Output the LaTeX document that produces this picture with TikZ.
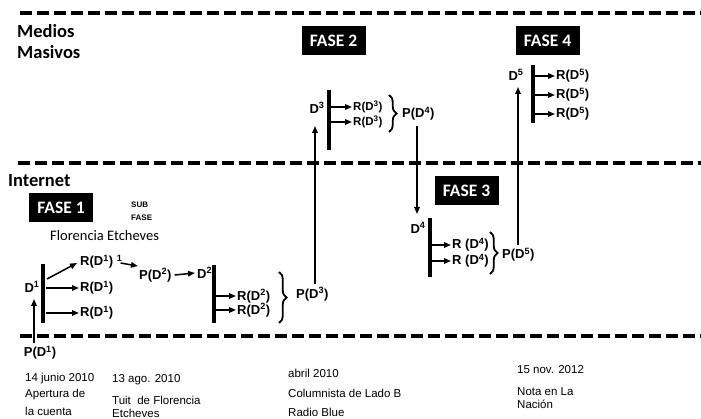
\documentclass[tikz,border=0pt]{standalone}
\usepackage{fontspec}
\setmainfont{Liberation Sans}
\newfontfamily\carl{Carlito}
\usetikzlibrary{arrows.meta,decorations.pathreplacing}
\begin{document}
\begin{tikzpicture}[x=1pt,y=-1pt,
 sep/.style={line width=4pt, dash pattern=on 12pt off 5pt},
 bar/.style={line width=3.5pt},
 arr/.style={line width=1.5pt,-{Triangle[length=7pt,width=5.5pt]}},
 lbl/.style={font=\bfseries\fontsize{13}{15}\selectfont, inner sep=0pt},
 slbl/.style={font=\bfseries\fontsize{11.5}{13}\selectfont, inner sep=0pt},
 fase/.style={fill=black,text=white,font=\carl\bfseries\fontsize{17.5}{20}\selectfont, minimum width=64pt, minimum height=29pt, inner sep=0pt},
 br/.style={decorate, decoration={brace,amplitude=7.5pt}, line width=1.8pt},
 note/.style={font=\fontsize{11.5}{14}\selectfont, inner sep=0pt, anchor=west},
 hdr/.style={font=\carl\bfseries\fontsize{18.5}{20}\selectfont, inner sep=0pt, anchor=west}]
\useasboundingbox (0,0) rectangle (701,419);
% separators
\coordinate (s1a) at (20,13); \coordinate (s1b) at (701,13);
\coordinate (s2a) at (18,163); \coordinate (s2b) at (701,163);
\coordinate (s3a) at (20,336); \coordinate (s3b) at (701,336);
\draw[sep] (s1a) -- (s1b);
\draw[sep] (s2a) -- (s2b);
\draw[sep] (s3a) -- (s3b);
% headers
\node[hdr] (medios) at (17,31) {Medios};
\node[hdr] (masivos) at (17,52) {Masivos};
\node[hdr] (internet) at (8,181) {Internet};
\node[fase] (f1) at (61,208) {FASE 1};
\node[fase] (f2) at (333.5,40.5) {FASE 2};
\node[fase] (f3) at (466.5,191) {FASE 3};
\node[fase] (f4) at (547.5,40.5) {FASE 4};
\node[font=\bfseries\fontsize{8}{9}\selectfont, inner sep=0pt, anchor=west] (sub1) at (131,205) {SUB};
\node[font=\bfseries\fontsize{8}{9}\selectfont, inner sep=0pt, anchor=west] (sub2) at (131,217.5) {FASE};
\node[font=\carl\fontsize{14.5}{17}\selectfont, inner sep=0pt, anchor=west] (flo) at (50,235.5) {Florencia Etcheves};
% phase 1
\node[lbl] (pd1) at (40,353) {P(D\textsuperscript{1})};
\node[lbl] (d1) at (32,287) {D\textsuperscript{1}};
\coordinate (a1s) at (34,343); \coordinate (a1e) at (34,299);
\draw[arr] (a1s) -- (a1e);
\coordinate (b1t) at (43,264); \coordinate (b1b) at (43,323);
\draw[bar] (b1t) -- (b1b);
\node[lbl,anchor=west] (r1a) at (80,262) {R(D\textsuperscript{1}) \textsuperscript{1}};
\node[lbl,anchor=west] (r1b) at (80,288) {R(D\textsuperscript{1})};
\node[lbl,anchor=west] (r1c) at (80,313) {R(D\textsuperscript{1})};
\coordinate (a1d) at (47,279);
\draw[arr] (a1d) -- ([xshift=-3pt,yshift=-1pt]r1a.west);
\draw[arr] ([xshift=3pt]b1t |- r1b.west) -- ([xshift=-1pt]r1b.west);
\draw[arr] ([xshift=3pt]b1t |- r1c.west) -- ([xshift=-1pt]r1c.west);
\node[lbl,anchor=west] (pd2) at (139,275) {P(D\textsuperscript{2})};
\draw[arr] ([xshift=-2pt,yshift=-1pt]r1a.east) -- ([xshift=-1pt,yshift=2pt]pd2.north west);
\node[lbl,anchor=west] (d2) at (197,273) {D\textsuperscript{2}};
\draw[arr] ([xshift=3pt]pd2.east) -- ([xshift=-2pt]d2.west);
\coordinate (b2t) at (214,265); \coordinate (b2b) at (214,323);
\draw[bar] (b2t) -- (b2b);
\node[lbl,anchor=west] (r2a) at (237,296) {R(D\textsuperscript{2})};
\node[lbl,anchor=west] (r2b) at (237,310) {R(D\textsuperscript{2})};
\draw[arr] ([xshift=2pt]b2t |- r2a.west) -- ([xshift=-1pt]r2a.west);
\draw[arr] ([xshift=2pt]b2t |- r2b.west) -- ([xshift=-1pt]r2b.west);
\coordinate (br2t) at (279,272); \coordinate (br2b) at (279,323);
\draw[br] (br2t) -- (br2b);
\node[lbl,anchor=west] (pd3) at (296,294) {P(D\textsuperscript{3})};
% phase 2
\coordinate (a3s) at (315,284); \coordinate (a3e) at (315,126);
\draw[arr] (a3s) -- (a3e);
\node[lbl] (d3) at (317,108) {D\textsuperscript{3}};
\coordinate (b3t) at (329,90); \coordinate (b3b) at (329,150);
\draw[bar] (b3t) -- (b3b);
\node[slbl,anchor=west] (r3a) at (353,107) {R(D\textsuperscript{3})};
\node[slbl,anchor=west] (r3b) at (353,122) {R(D\textsuperscript{3})};
\draw[arr] ([xshift=2pt]b3t |- r3a.west) -- ([xshift=-1pt]r3a.west);
\draw[arr] ([xshift=2pt]b3t |- r3b.west) -- ([xshift=-1pt]r3b.west);
\coordinate (br3t) at (389,95); \coordinate (br3b) at (389,132);
\draw[br] (br3t) -- (br3b);
\node[lbl,anchor=west] (pd4) at (402,114) {P(D\textsuperscript{4})};
% phase 3
\coordinate (a4s) at (417,126); \coordinate (a4e) at (417,214);
\draw[arr] (a4s) -- (a4e);
\node[lbl] (d4) at (418,228) {D\textsuperscript{4}};
\coordinate (b4t) at (430,218); \coordinate (b4b) at (430,277);
\draw[bar] (b4t) -- (b4b);
\node[lbl,anchor=west] (r4a) at (452,245) {R (D\textsuperscript{4})};
\node[lbl,anchor=west] (r4b) at (452,261) {R (D\textsuperscript{4})};
\draw[arr] ([xshift=2pt]b4t |- r4a.west) -- ([xshift=-1pt]r4a.west);
\draw[arr] ([xshift=2pt]b4t |- r4b.west) -- ([xshift=-1pt]r4b.west);
\coordinate (br4t) at (490,232); \coordinate (br4b) at (490,274);
\draw[br] (br4t) -- (br4b);
\node[lbl,anchor=west] (pd5) at (502,255) {P(D\textsuperscript{5})};
% phase 4
\coordinate (a5s) at (518,245); \coordinate (a5e) at (518,87);
\draw[arr] (a5s) -- (a5e);
\node[lbl] (d5) at (516,75) {D\textsuperscript{5}};
\coordinate (b5t) at (533,65); \coordinate (b5b) at (533,123);
\draw[bar] (b5t) -- (b5b);
\node[lbl,anchor=west] (r5a) at (556,76) {R(D\textsuperscript{5})};
\node[lbl,anchor=west] (r5b) at (556,95) {R(D\textsuperscript{5})};
\node[lbl,anchor=west] (r5c) at (556,114) {R(D\textsuperscript{5})};
\draw[arr] ([xshift=2pt]b5t |- r5a.west) -- ([xshift=-1pt]r5a.west);
\draw[arr] ([xshift=2pt]b5t |- r5b.west) -- ([xshift=-1pt]r5b.west);
\draw[arr] ([xshift=2pt]b5t |- r5c.west) -- ([xshift=-1pt]r5c.west);
% notes
\node[note] (n1a) at (25,379) {14 junio 2010};
\node[note] (n1b) at (25,395) {Apertura de};
\node[note] (n1c) at (25,411.5) {la cuenta};
\node[note] (n2a) at (112,380) {13 ago. 2010};
\node[note] (n2b) at (112,400.5) {Tuit\ \ de Florencia};
\node[note] (n2c) at (112,413) {Etcheves};
\node[note] (n3a) at (288,373) {abril 2010};
\node[note] (n3b) at (288,393) {Columnista de Lado B};
\node[note] (n3c) at (288,412.5) {Radio Blue};
\node[note] (n4a) at (517,370) {15 nov. 2012};
\node[note] (n4b) at (517,392) {Nota en La};
\node[note] (n4c) at (517,404.5) {Nación};
\end{tikzpicture}
\end{document}
